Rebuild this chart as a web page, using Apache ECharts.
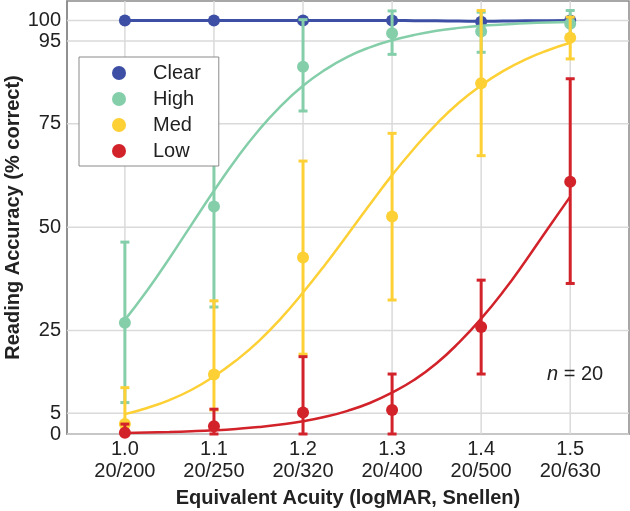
<!DOCTYPE html>
<html>
<head>
<meta charset="utf-8">
<script src="https://cdn.jsdelivr.net/npm/echarts@6/dist/echarts.min.js"></script>
<style>
html,body{margin:0;padding:0;background:#fff;}
#chart{width:630px;height:511px;}
</style>
</head>
<body>
<div id="chart"></div>
<script>
// ---- data ----
const acuity = [1.0, 1.1, 1.2, 1.3, 1.4, 1.5];
const snellen = ['20/200', '20/250', '20/320', '20/400', '20/500', '20/630'];
const yTicks = [0, 5, 25, 50, 75, 95, 100];

const clearPts = [100, 100, 100, 100, 99.7, 100];
const highPts  = [26.9, 55.0, 88.8, 96.9, 97.3, 99.2];
const medPts   = [2.4, 14.4, 42.7, 52.6, 84.8, 95.8];
const lowPts   = [0.3, 1.9, 5.2, 5.8, 25.9, 61.0];

const highLo = [7.6, 30.7, 78.1, 91.8, 92.3, 96.5];
const highHi = [46.4, 79.3, 100.2, 102.3, 102.0, 102.4];
const medLo  = [0, 5.8, 19.3, 32.4, 67.3, 90.7];
const medHi  = [11.2, 32.2, 66.0, 72.7, 102.4, 100.8];
const lowLo  = [0, 0, 0, 0, 14.5, 36.4];
const lowHi  = [2.4, 6.0, 18.7, 14.5, 37.2, 85.9];

// fitted curves, read at these x positions
const curveX   = [1.0, 1.025, 1.05, 1.075, 1.1, 1.125, 1.15, 1.175, 1.2, 1.225, 1.25, 1.275, 1.3, 1.325, 1.35, 1.375, 1.4, 1.425, 1.45, 1.475, 1.5];
const clearFit = [100, 100, 100, 100, 100, 100, 100, 100, 100, 100, 100, 100, 100, 99.95, 99.9, 99.85, 99.8, 99.85, 99.9, 99.95, 100];
const highFit  = [27.6, 34.7, 42.5, 50.7, 58.8, 66.5, 73.4, 79.3, 84.2, 88.1, 91.2, 93.5, 95.2, 96.5, 97.5, 98.2, 98.7, 99.0, 99.3, 99.5, 99.6];
const medFit   = [4.8, 6.3, 8.2, 10.7, 13.9, 17.8, 22.4, 27.9, 34.2, 41.0, 48.2, 55.5, 62.6, 69.1, 75.0, 80.1, 84.3, 87.8, 90.6, 92.8, 94.6];
const lowFit   = [0.26, 0.36, 0.48, 0.66, 0.90, 1.23, 1.67, 2.28, 3.08, 4.15, 5.6, 7.5, 10.0, 13.1, 17.1, 22.1, 27.9, 34.5, 41.9, 49.7, 57.4];

const names  = ['Clear', 'High', 'Med', 'Low'];
const colors = ['#3D4FA5', '#85CEAA', '#FDD035', '#D2222A'];

// ---- build ----
const pair = (xs, ys) => xs.map((x, i) => [x, ys[i]]);
const tri = (xs, lo, hi) => xs.map((x, i) => [x, lo[i], hi[i]]);

function errRender(color) {
  return function (params, api) {
    const x = api.value(0), lo = api.value(1), hi = api.value(2);
    const a = api.coord([x, hi]);
    const b = api.coord([x, lo]);
    const hw = 4.5;
    const st = { stroke: color, lineWidth: 3 };
    return {
      type: 'group',
      children: [
        { type: 'line', shape: { x1: a[0], y1: a[1], x2: b[0], y2: b[1] }, style: st },
        { type: 'line', shape: { x1: a[0] - hw, y1: a[1], x2: a[0] + hw, y2: a[1] }, style: st },
        { type: 'line', shape: { x1: b[0] - hw, y1: b[1], x2: b[0] + hw, y2: b[1] }, style: st }
      ]
    };
  };
}

const gridStyle = { stroke: '#dadada', lineWidth: 1.5 };
function hGrid(params, api) {
  const cs = params.coordSys;
  const y = api.coord([api.value(0), api.value(1)])[1];
  return { type: 'line', silent: true, shape: { x1: cs.x, y1: y, x2: cs.x + cs.width, y2: y }, style: gridStyle };
}
function vGrid(params, api) {
  const cs = params.coordSys;
  const x = api.coord([api.value(0), api.value(1)])[0];
  return { type: 'line', silent: true, shape: { x1: x, y1: cs.y, x2: x, y2: cs.y + cs.height }, style: gridStyle };
}

const fits = [clearFit, highFit, medFit, lowFit];
const pts = [clearPts, highPts, medPts, lowPts];
const errs = [null, [highLo, highHi], [medLo, medHi], [lowLo, lowHi]];

const series = [];
series.push({
  type: 'custom', name: 'hgrid', data: yTicks.map(v => [1.2, v]),
  encode: { x: 0, y: 1 }, renderItem: hGrid, silent: true, z: 1
});
series.push({
  type: 'custom', name: 'vgrid', data: acuity.map(v => [v, 50]),
  encode: { x: 0, y: 1 }, renderItem: vGrid, silent: true, z: 1
});

for (let k = 0; k < 4; k++) {
  series.push({
    type: 'line', name: names[k] + ' fit', data: pair(curveX, fits[k]),
    smooth: true, showSymbol: false, symbol: 'none', silent: true,
    lineStyle: { color: colors[k], width: k === 0 ? 3 : 2.5, opacity: 1 },
    emphasis: { disabled: true },
    z: 3 + k * 3
  });
  if (errs[k]) {
    series.push({
      type: 'custom', name: names[k] + ' err', data: tri(acuity, errs[k][0], errs[k][1]),
      renderItem: errRender(colors[k]), encode: { x: 0, y: [1, 2] }, silent: true,
      z: 4 + k * 3
    });
  }
  series.push({
    type: 'scatter', name: names[k], data: pair(acuity, pts[k]),
    symbol: 'circle', symbolSize: 12,
    itemStyle: { color: colors[k], opacity: 1 },
    z: 5 + k * 3
  });
}

const chart = echarts.init(document.getElementById('chart'), null, { renderer: 'canvas' });
const font = 'Liberation Sans, Arial, Helvetica, sans-serif';
const txt = '#222';

chart.setOption({
  animation: false,
  backgroundColor: '#fff',
  textStyle: { fontFamily: font },
  grid: {
    left: 67, right: 1, top: 1, bottom: 77,
    outerBoundsMode: 'none', containLabel: false,
    show: true, borderColor: '#8a8a8a', borderWidth: 1.5, backgroundColor: 'transparent'
  },
  xAxis: {
    type: 'value', min: 0.935, max: 1.566,
    name: 'Equivalent Acuity (logMAR, Snellen)', nameLocation: 'middle', nameGap: 54,
    nameMoveOverlap: false,
    nameTextStyle: { fontFamily: font, fontSize: 20, fontWeight: 'bold', color: txt },
    axisLine: { show: true, onZero: false, lineStyle: { color: '#8a8a8a', width: 1.5 } },
    axisTick: { show: false },
    splitLine: { show: false },
    axisLabel: {
      customValues: acuity,
      margin: 4, fontFamily: font, fontSize: 20, color: txt, lineHeight: 22,
      formatter: function (v) {
        const i = acuity.findIndex(a => Math.abs(a - v) < 1e-6);
        return i < 0 ? '' : acuity[i].toFixed(1) + '\n' + snellen[i];
      }
    }
  },
  yAxis: {
    type: 'value', min: 0, max: 104.7,
    name: 'Reading Accuracy (% correct)', nameLocation: 'middle', nameGap: 44,
    nameMoveOverlap: false,
    nameTextStyle: { fontFamily: font, fontSize: 20, fontWeight: 'bold', color: txt },
    axisLine: { show: true, onZero: false, lineStyle: { color: '#8a8a8a', width: 1.5 } },
    axisTick: { show: false },
    splitLine: { show: false },
    axisLabel: {
      customValues: yTicks,
      margin: 6, fontFamily: font, fontSize: 20, color: txt,
      formatter: function (v) {
        return yTicks.some(t => Math.abs(t - v) < 1e-6) ? String(Math.round(v)) : '';
      }
    }
  },
  legend: {
    data: names.map((n) => ({ name: n, icon: 'circle' })),
    orient: 'vertical', left: 79, top: 57,
    itemWidth: 14, itemHeight: 14, itemGap: 6,
    padding: [6, 18, 5, 33],
    backgroundColor: '#fff', borderColor: '#8a8a8a', borderWidth: 1,
    borderRadius: 0,
    textStyle: { fontFamily: font, fontSize: 20, color: txt, lineHeight: 20, padding: [0, 0, 0, 22] },
    z: 20,
    selectedMode: false
  },
  graphic: [{
    type: 'text', left: 547, top: 364, z: 20,
    style: {
      text: '{i|n} = 20',
      rich: { i: { fontStyle: 'italic', fontFamily: font, fontSize: 20, fill: txt } },
      fontFamily: font, fontSize: 20, fill: txt
    }
  }],
  series: series
});
</script>
</body>
</html>
